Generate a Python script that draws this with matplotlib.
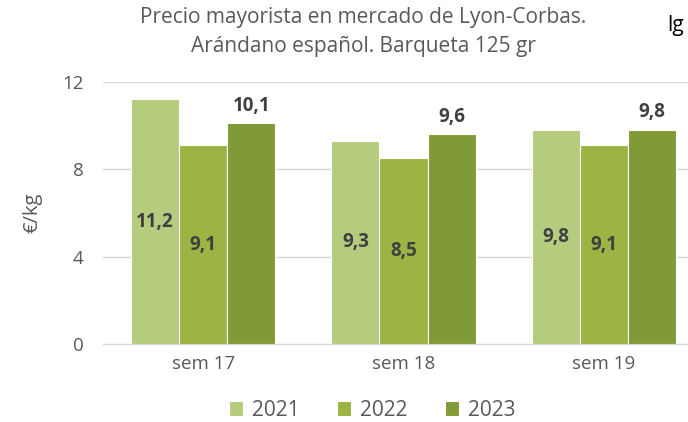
import matplotlib.pyplot as plt
import numpy as np

# data
weeks = ['sem 17', 'sem 18', 'sem 19']
years = ['2021', '2022', '2023']
v2021 = [11.2, 9.3, 9.8]
v2022 = [9.1, 8.5, 9.1]
v2023 = [10.1, 9.6, 9.8]
colors = ['#B5CB7D', '#9BB444', '#7F9A37']

plt.rcParams['font.family'] = ['Open Sans', 'DejaVu Sans']

fig = plt.figure(figsize=(6.88, 4.22), dpi=100)
ax = fig.add_axes([103 / 688, 1 - 344 / 422, 601 / 688, 262 / 422])

x = np.arange(len(weeks))
w = 0.24
series = [v2021, v2022, v2023]
for i, vals in enumerate(series):
    bars = ax.bar(x + (i - 1) * w, vals, w, color=colors[i], edgecolor='white',
                  linewidth=0.8, label=years[i], zorder=3)
    for b, v in zip(bars, vals):
        txt = f'{v:.1f}'.replace('.', ',')
        if i < 2:
            ax.text(b.get_x() + b.get_width() / 2, v / 2, txt, ha='center', va='center',
                    fontsize=13.5, fontweight='bold', color='#404040', zorder=4)
        else:
            ax.text(b.get_x() + b.get_width() / 2, v + 0.35, txt, ha='center', va='bottom',
                    fontsize=13.5, fontweight='bold', color='#404040', zorder=4)

ax.set_xlim(-0.5, 2.5)
ax.set_ylim(0, 12)
ax.set_yticks([0, 4, 8, 12])
ax.set_xticks(x)
ax.set_xticklabels(weeks)
ax.tick_params(axis='both', length=0, labelsize=13.5, colors='#595959')
ax.tick_params(axis='y', pad=14)
ax.tick_params(axis='x', pad=8)
ax.grid(axis='y', color='#D9D9D9', linewidth=1, zorder=0)
for s in ['top', 'right', 'left']:
    ax.spines[s].set_visible(False)
ax.spines['bottom'].set_color('#D9D9D9')
ax.set_ylabel('€/kg', fontsize=14.5, color='#595959', labelpad=14)

fig.text(363 / 688, 1 - 32 / 422, 'Precio mayorista en mercado de Lyon-Corbas.\nArándano español. Barqueta 125 gr',
         ha='center', va='center', fontsize=15, color='#595959', linespacing=1.45)
fig.text(667 / 688, 1 - 25 / 422, 'lg', ha='left', va='center', fontsize=15, color='black')

fig.legend(loc='center', bbox_to_anchor=(372 / 688, 1 - 410 / 422), ncol=3, frameon=False,
           fontsize=15, labelcolor='#595959', handlelength=0.7, handleheight=0.7,
           handletextpad=0.4, columnspacing=1.8)

fig.savefig('out.png', dpi=100)
